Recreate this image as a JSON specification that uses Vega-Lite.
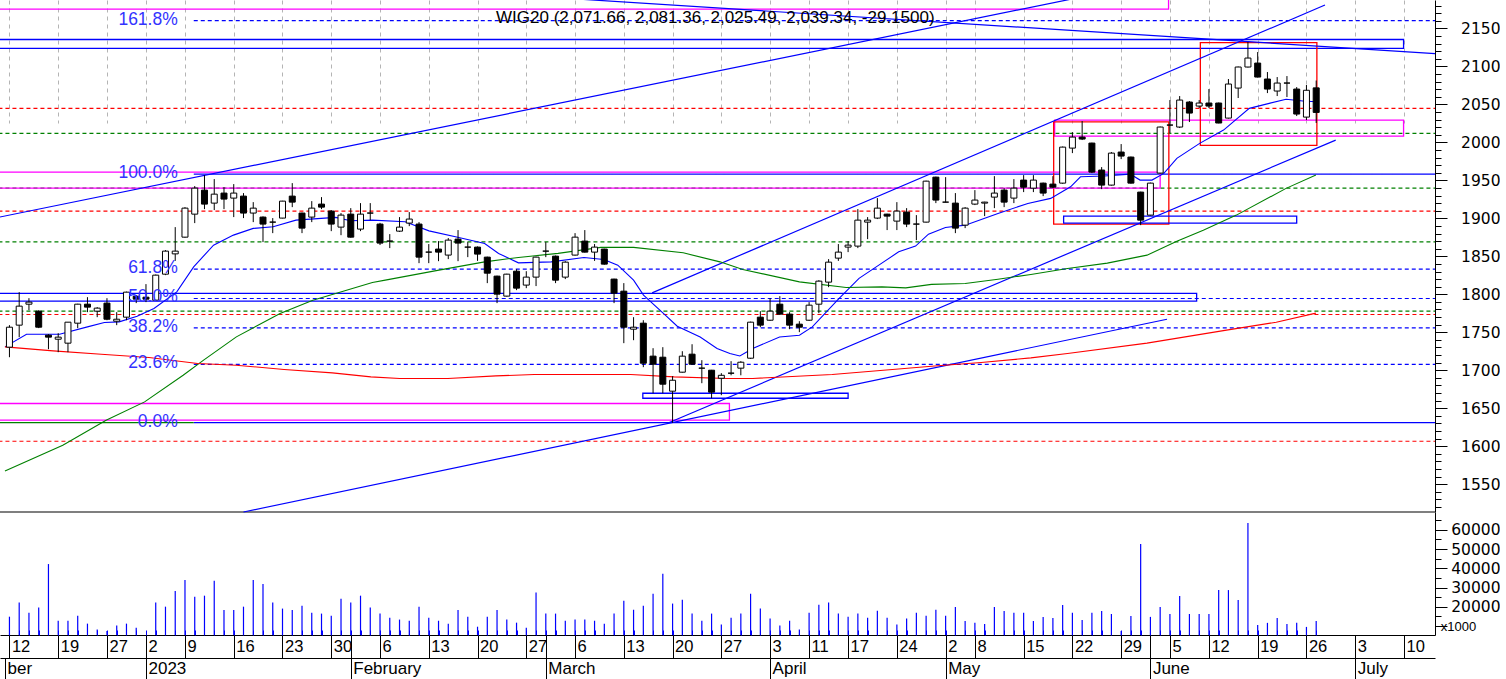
{
  "$schema": "https://vega.github.io/schema/vega-lite/v6.json",
  "padding": 0,
  "background": "white",
  "width": 1435,
  "height": 635,
  "config": {
    "view": {"stroke": null},
    "axis": {"labelFontWeight": "normal", "titleFontWeight": "normal", "labelColor": "black", "tickColor": "black", "domainColor": "black"}
  },
  "datasets": {
    "candles": [
      {"i": -1, "o": 1730.4, "h": 1759.4, "l": 1717.2, "c": 1756.7, "v": 14900},
      {"i": 0, "o": 1759.4, "h": 1802.8, "l": 1743.6, "c": 1784.4, "v": 22200},
      {"i": 1, "o": 1787.0, "h": 1794.9, "l": 1779.1, "c": 1789.7, "v": 17000},
      {"i": 2, "o": 1777.8, "h": 1779.0, "l": 1755.5, "c": 1756.7, "v": 19600},
      {"i": 3, "o": 1746.2, "h": 1747.5, "l": 1727.8, "c": 1743.6, "v": 42200},
      {"i": 4, "o": 1740.9, "h": 1748.8, "l": 1723.8, "c": 1743.6, "v": 12800},
      {"i": 5, "o": 1735.7, "h": 1763.3, "l": 1723.8, "c": 1763.3, "v": 12800},
      {"i": 6, "o": 1762.0, "h": 1787.5, "l": 1755.4, "c": 1787.0, "v": 15400},
      {"i": 7, "o": 1787.0, "h": 1796.2, "l": 1776.5, "c": 1783.1, "v": 11300},
      {"i": 8, "o": 1777.8, "h": 1783.1, "l": 1769.9, "c": 1781.8, "v": 8200},
      {"i": 9, "o": 1788.4, "h": 1794.9, "l": 1765.9, "c": 1767.2, "v": 7500},
      {"i": 10, "o": 1764.6, "h": 1776.5, "l": 1759.4, "c": 1767.2, "v": 10300},
      {"i": 11, "o": 1769.9, "h": 1803.5, "l": 1765.9, "c": 1802.8, "v": 11300},
      {"i": 12, "o": 1797.5, "h": 1798.8, "l": 1788.4, "c": 1793.6, "v": 9200},
      {"i": 13, "o": 1796.2, "h": 1813.4, "l": 1789.7, "c": 1793.6, "v": 4500},
      {"i": 14, "o": 1792.3, "h": 1826.0, "l": 1791.5, "c": 1825.2, "v": 22200},
      {"i": 15, "o": 1826.5, "h": 1858.1, "l": 1825.2, "c": 1856.8, "v": 20100},
      {"i": 16, "o": 1853.2, "h": 1888.4, "l": 1844.0, "c": 1856.8, "v": 28200},
      {"i": 17, "o": 1875.2, "h": 1914.7, "l": 1874.5, "c": 1913.4, "v": 33900},
      {"i": 18, "o": 1905.5, "h": 1942.4, "l": 1893.7, "c": 1939.7, "v": 25300},
      {"i": 19, "o": 1937.1, "h": 1956.8, "l": 1912.1, "c": 1918.7, "v": 25800},
      {"i": 20, "o": 1920.0, "h": 1951.6, "l": 1910.8, "c": 1931.8, "v": 33600},
      {"i": 21, "o": 1933.2, "h": 1941.0, "l": 1912.1, "c": 1925.3, "v": 18400},
      {"i": 22, "o": 1926.6, "h": 1945.0, "l": 1901.6, "c": 1933.2, "v": 18400},
      {"i": 23, "o": 1929.2, "h": 1933.2, "l": 1900.3, "c": 1906.9, "v": 20100},
      {"i": 24, "o": 1906.9, "h": 1921.3, "l": 1895.0, "c": 1913.4, "v": 33900},
      {"i": 25, "o": 1901.6, "h": 1902.5, "l": 1868.7, "c": 1892.4, "v": 31900},
      {"i": 26, "o": 1895.0, "h": 1900.3, "l": 1880.5, "c": 1895.0, "v": 22200},
      {"i": 27, "o": 1900.3, "h": 1923.0, "l": 1900.0, "c": 1922.6, "v": 19100},
      {"i": 28, "o": 1929.2, "h": 1946.3, "l": 1914.7, "c": 1921.3, "v": 18400},
      {"i": 29, "o": 1906.9, "h": 1907.5, "l": 1880.5, "c": 1887.1, "v": 20600},
      {"i": 30, "o": 1901.6, "h": 1922.6, "l": 1895.0, "c": 1913.4, "v": 17000},
      {"i": 31, "o": 1918.7, "h": 1927.9, "l": 1912.1, "c": 1914.7, "v": 16500},
      {"i": 32, "o": 1909.5, "h": 1910.8, "l": 1883.1, "c": 1892.4, "v": 15400},
      {"i": 33, "o": 1888.4, "h": 1906.9, "l": 1877.8, "c": 1904.2, "v": 24200},
      {"i": 34, "o": 1905.5, "h": 1913.4, "l": 1874.5, "c": 1875.2, "v": 22200},
      {"i": 35, "o": 1885.8, "h": 1920.0, "l": 1883.1, "c": 1905.5, "v": 25800},
      {"i": 36, "o": 1906.9, "h": 1920.0, "l": 1897.6, "c": 1906.9, "v": 19600},
      {"i": 37, "o": 1892.4, "h": 1894.0, "l": 1864.8, "c": 1867.4, "v": 16500},
      {"i": 38, "o": 1870.0, "h": 1879.2, "l": 1860.8, "c": 1870.0, "v": 14400},
      {"i": 39, "o": 1883.1, "h": 1901.6, "l": 1882.0, "c": 1888.4, "v": 13400},
      {"i": 40, "o": 1893.7, "h": 1908.2, "l": 1889.7, "c": 1899.0, "v": 12800},
      {"i": 41, "o": 1892.4, "h": 1895.0, "l": 1841.0, "c": 1848.9, "v": 20100},
      {"i": 42, "o": 1855.5, "h": 1866.1, "l": 1841.0, "c": 1855.5, "v": 14400},
      {"i": 43, "o": 1859.5, "h": 1870.0, "l": 1843.6, "c": 1855.5, "v": 12800},
      {"i": 44, "o": 1851.6, "h": 1874.0, "l": 1846.3, "c": 1871.3, "v": 11300},
      {"i": 45, "o": 1872.6, "h": 1884.5, "l": 1843.6, "c": 1867.4, "v": 18400},
      {"i": 46, "o": 1862.1, "h": 1868.7, "l": 1848.9, "c": 1862.1, "v": 14900},
      {"i": 47, "o": 1862.1, "h": 1863.0, "l": 1844.0, "c": 1852.9, "v": 9700},
      {"i": 48, "o": 1848.9, "h": 1849.5, "l": 1814.7, "c": 1827.8, "v": 14900},
      {"i": 49, "o": 1823.9, "h": 1824.5, "l": 1788.4, "c": 1800.2, "v": 18400},
      {"i": 50, "o": 1797.6, "h": 1827.0, "l": 1797.0, "c": 1826.5, "v": 13400},
      {"i": 51, "o": 1830.4, "h": 1833.0, "l": 1805.5, "c": 1808.1, "v": 11800},
      {"i": 52, "o": 1812.1, "h": 1830.4, "l": 1808.1, "c": 1822.6, "v": 9200},
      {"i": 53, "o": 1822.6, "h": 1849.5, "l": 1810.8, "c": 1848.9, "v": 27400},
      {"i": 54, "o": 1856.8, "h": 1868.7, "l": 1848.9, "c": 1856.8, "v": 16500},
      {"i": 55, "o": 1850.2, "h": 1851.0, "l": 1814.7, "c": 1818.6, "v": 16500},
      {"i": 56, "o": 1822.6, "h": 1843.6, "l": 1820.0, "c": 1842.3, "v": 12800},
      {"i": 57, "o": 1851.6, "h": 1880.5, "l": 1851.0, "c": 1875.2, "v": 13400},
      {"i": 58, "o": 1870.0, "h": 1884.5, "l": 1855.0, "c": 1855.5, "v": 13400},
      {"i": 59, "o": 1855.5, "h": 1866.1, "l": 1844.0, "c": 1862.1, "v": 12800},
      {"i": 60, "o": 1859.5, "h": 1860.0, "l": 1839.0, "c": 1839.7, "v": 11300},
      {"i": 61, "o": 1820.0, "h": 1820.5, "l": 1788.4, "c": 1801.5, "v": 16500},
      {"i": 62, "o": 1804.1, "h": 1814.7, "l": 1735.7, "c": 1756.7, "v": 23200},
      {"i": 63, "o": 1754.1, "h": 1769.9, "l": 1739.6, "c": 1756.7, "v": 18500},
      {"i": 64, "o": 1762.0, "h": 1765.9, "l": 1704.1, "c": 1709.3, "v": 20600},
      {"i": 65, "o": 1718.6, "h": 1729.1, "l": 1669.8, "c": 1708.0, "v": 26800},
      {"i": 66, "o": 1717.2, "h": 1730.4, "l": 1669.8, "c": 1681.7, "v": 37200},
      {"i": 67, "o": 1672.5, "h": 1692.2, "l": 1631.0, "c": 1686.9, "v": 21700},
      {"i": 68, "o": 1697.5, "h": 1725.1, "l": 1697.0, "c": 1718.6, "v": 23700},
      {"i": 69, "o": 1721.2, "h": 1734.3, "l": 1707.5, "c": 1708.0, "v": 16500},
      {"i": 70, "o": 1702.8, "h": 1713.3, "l": 1683.0, "c": 1702.8, "v": 12800},
      {"i": 71, "o": 1700.1, "h": 1700.5, "l": 1663.2, "c": 1671.2, "v": 16500},
      {"i": 72, "o": 1689.5, "h": 1696.2, "l": 1667.2, "c": 1693.4, "v": 10800},
      {"i": 73, "o": 1696.2, "h": 1712.0, "l": 1693.4, "c": 1696.2, "v": 14400},
      {"i": 74, "o": 1702.8, "h": 1712.0, "l": 1693.4, "c": 1710.6, "v": 16500},
      {"i": 75, "o": 1715.9, "h": 1764.0, "l": 1715.0, "c": 1763.3, "v": 26800},
      {"i": 76, "o": 1769.9, "h": 1777.8, "l": 1756.7, "c": 1759.4, "v": 19100},
      {"i": 77, "o": 1765.9, "h": 1794.9, "l": 1765.0, "c": 1777.8, "v": 13900},
      {"i": 78, "o": 1787.0, "h": 1797.5, "l": 1773.0, "c": 1773.9, "v": 10300},
      {"i": 79, "o": 1773.9, "h": 1776.5, "l": 1754.1, "c": 1759.4, "v": 12800},
      {"i": 80, "o": 1760.7, "h": 1764.6, "l": 1750.2, "c": 1756.7, "v": 8200},
      {"i": 81, "o": 1765.9, "h": 1789.7, "l": 1765.0, "c": 1785.7, "v": 17000},
      {"i": 82, "o": 1787.0, "h": 1818.6, "l": 1775.2, "c": 1817.3, "v": 21100},
      {"i": 83, "o": 1816.0, "h": 1846.3, "l": 1809.4, "c": 1842.3, "v": 22200},
      {"i": 84, "o": 1847.6, "h": 1866.1, "l": 1844.0, "c": 1855.5, "v": 16500},
      {"i": 85, "o": 1862.1, "h": 1870.0, "l": 1855.5, "c": 1864.7, "v": 14900},
      {"i": 86, "o": 1863.4, "h": 1912.1, "l": 1860.8, "c": 1897.6, "v": 16500},
      {"i": 87, "o": 1895.0, "h": 1901.6, "l": 1872.6, "c": 1897.6, "v": 14400},
      {"i": 88, "o": 1900.3, "h": 1926.6, "l": 1899.0, "c": 1913.4, "v": 18000},
      {"i": 89, "o": 1905.5, "h": 1906.0, "l": 1884.5, "c": 1902.9, "v": 14400},
      {"i": 90, "o": 1896.3, "h": 1921.3, "l": 1884.5, "c": 1909.5, "v": 10800},
      {"i": 91, "o": 1908.2, "h": 1913.4, "l": 1888.4, "c": 1892.4, "v": 13900},
      {"i": 92, "o": 1892.4, "h": 1904.2, "l": 1871.3, "c": 1892.4, "v": 17000},
      {"i": 93, "o": 1895.0, "h": 1949.5, "l": 1894.5, "c": 1948.9, "v": 15400},
      {"i": 94, "o": 1954.2, "h": 1954.8, "l": 1920.0, "c": 1924.0, "v": 18500},
      {"i": 95, "o": 1921.3, "h": 1954.2, "l": 1921.0, "c": 1921.3, "v": 15400},
      {"i": 96, "o": 1920.0, "h": 1933.2, "l": 1880.5, "c": 1887.1, "v": 19900},
      {"i": 97, "o": 1891.0, "h": 1914.7, "l": 1887.1, "c": 1913.4, "v": 12700},
      {"i": 98, "o": 1918.7, "h": 1937.1, "l": 1917.4, "c": 1924.0, "v": 11800},
      {"i": 99, "o": 1920.0, "h": 1921.8, "l": 1902.9, "c": 1921.3, "v": 11100},
      {"i": 100, "o": 1927.9, "h": 1955.5, "l": 1913.4, "c": 1933.2, "v": 19900},
      {"i": 101, "o": 1937.1, "h": 1939.7, "l": 1914.7, "c": 1921.3, "v": 17900},
      {"i": 102, "o": 1926.6, "h": 1951.6, "l": 1920.0, "c": 1939.7, "v": 17000},
      {"i": 103, "o": 1950.3, "h": 1956.8, "l": 1934.5, "c": 1941.0, "v": 17000},
      {"i": 104, "o": 1939.7, "h": 1956.8, "l": 1934.5, "c": 1950.3, "v": 12700},
      {"i": 105, "o": 1946.3, "h": 1947.0, "l": 1929.2, "c": 1933.2, "v": 14800},
      {"i": 106, "o": 1945.0, "h": 1955.5, "l": 1939.7, "c": 1941.0, "v": 14200},
      {"i": 107, "o": 1946.3, "h": 1994.5, "l": 1945.5, "c": 1993.7, "v": 21000},
      {"i": 108, "o": 1992.4, "h": 2013.4, "l": 1985.8, "c": 2006.9, "v": 17000},
      {"i": 109, "o": 2006.9, "h": 2028.0, "l": 2003.0, "c": 2004.3, "v": 13200},
      {"i": 110, "o": 1999.0, "h": 1999.5, "l": 1959.5, "c": 1960.8, "v": 17000},
      {"i": 111, "o": 1963.5, "h": 1967.4, "l": 1938.4, "c": 1943.7, "v": 17900},
      {"i": 112, "o": 1943.7, "h": 1987.2, "l": 1943.0, "c": 1985.8, "v": 16300},
      {"i": 113, "o": 1987.2, "h": 1997.7, "l": 1977.9, "c": 1981.9, "v": 7500},
      {"i": 114, "o": 1980.6, "h": 1981.2, "l": 1945.7, "c": 1946.3, "v": 15300},
      {"i": 115, "o": 1934.5, "h": 1935.0, "l": 1891.0, "c": 1897.6, "v": 52600},
      {"i": 116, "o": 1904.2, "h": 1947.0, "l": 1903.6, "c": 1946.3, "v": 14800},
      {"i": 117, "o": 1959.5, "h": 2020.7, "l": 1959.0, "c": 2020.1, "v": 19900},
      {"i": 118, "o": 2022.7, "h": 2055.6, "l": 2012.2, "c": 2022.7, "v": 16300},
      {"i": 119, "o": 2020.1, "h": 2060.9, "l": 2018.8, "c": 2055.6, "v": 25600},
      {"i": 120, "o": 2053.0, "h": 2054.3, "l": 2026.7, "c": 2038.5, "v": 16300},
      {"i": 121, "o": 2047.7, "h": 2055.6, "l": 2045.1, "c": 2051.7, "v": 16300},
      {"i": 122, "o": 2051.7, "h": 2070.1, "l": 2045.1, "c": 2047.7, "v": 16300},
      {"i": 123, "o": 2051.7, "h": 2052.3, "l": 2025.0, "c": 2025.4, "v": 28700},
      {"i": 124, "o": 2031.9, "h": 2083.3, "l": 2031.3, "c": 2076.7, "v": 28700},
      {"i": 125, "o": 2071.4, "h": 2099.7, "l": 2058.3, "c": 2099.1, "v": 23600},
      {"i": 126, "o": 2099.1, "h": 2132.0, "l": 2098.5, "c": 2110.9, "v": 63500},
      {"i": 127, "o": 2104.3, "h": 2118.8, "l": 2085.3, "c": 2085.9, "v": 10600},
      {"i": 128, "o": 2083.3, "h": 2092.5, "l": 2064.8, "c": 2070.1, "v": 11700},
      {"i": 129, "o": 2067.5, "h": 2085.9, "l": 2060.9, "c": 2078.0, "v": 14200},
      {"i": 130, "o": 2078.0, "h": 2087.2, "l": 2059.6, "c": 2078.0, "v": 11100},
      {"i": 131, "o": 2070.1, "h": 2072.7, "l": 2034.6, "c": 2037.2, "v": 11700},
      {"i": 132, "o": 2033.2, "h": 2075.4, "l": 2029.3, "c": 2068.5, "v": 9600},
      {"i": 133, "o": 2071.66, "h": 2081.36, "l": 2025.49, "c": 2039.34, "v": 12700}
    ],
    "ma": [
      {"s": "b", "i": -1.46, "p": 1730.8}, {"s": "b", "i": 0.75, "p": 1747.5}, {"s": "b", "i": 4.14, "p": 1747.5},
      {"s": "b", "i": 7.0, "p": 1757.1}, {"s": "b", "i": 8.73, "p": 1762.9}, {"s": "b", "i": 10.25, "p": 1763.7},
      {"s": "b", "i": 12.09, "p": 1771.2}, {"s": "b", "i": 13.82, "p": 1781.4}, {"s": "b", "i": 16.16, "p": 1803.2},
      {"s": "b", "i": 17.89, "p": 1836.1}, {"s": "b", "i": 19.93, "p": 1864.7}, {"s": "b", "i": 21.97, "p": 1877.9},
      {"s": "b", "i": 24.0, "p": 1886.7}, {"s": "b", "i": 26.04, "p": 1888.8}, {"s": "b", "i": 28.38, "p": 1897.6},
      {"s": "b", "i": 32.45, "p": 1901.2}, {"s": "b", "i": 33.98, "p": 1896.7}, {"s": "b", "i": 36.22, "p": 1897.6},
      {"s": "b", "i": 39.58, "p": 1895.4}, {"s": "b", "i": 42.02, "p": 1883.5}, {"s": "b", "i": 45.08, "p": 1874.8},
      {"s": "b", "i": 47.73, "p": 1866.9}, {"s": "b", "i": 49.16, "p": 1853.8}, {"s": "b", "i": 51.19, "p": 1841.4},
      {"s": "b", "i": 54.55, "p": 1842.7}, {"s": "b", "i": 57.91, "p": 1848.5}, {"s": "b", "i": 59.95, "p": 1845.9},
      {"s": "b", "i": 61.38, "p": 1838.4}, {"s": "b", "i": 63.0, "p": 1818.6}, {"s": "b", "i": 64.02, "p": 1798.9},
      {"s": "b", "i": 66.06, "p": 1774.8}, {"s": "b", "i": 67.48, "p": 1758.0}, {"s": "b", "i": 69.83, "p": 1743.9},
      {"s": "b", "i": 71.56, "p": 1728.7}, {"s": "b", "i": 72.88, "p": 1722.1}, {"s": "b", "i": 73.9, "p": 1718.9},
      {"s": "b", "i": 75.22, "p": 1728.7}, {"s": "b", "i": 77.97, "p": 1743.9}, {"s": "b", "i": 80.01, "p": 1746.2},
      {"s": "b", "i": 81.33, "p": 1757.1}, {"s": "b", "i": 84.08, "p": 1794.5}, {"s": "b", "i": 86.12, "p": 1820.9},
      {"s": "b", "i": 88.15, "p": 1838.4}, {"s": "b", "i": 90.19, "p": 1855.9}, {"s": "b", "i": 91.92, "p": 1863.4},
      {"s": "b", "i": 93.24, "p": 1879.2}, {"s": "b", "i": 94.98, "p": 1888.0}, {"s": "b", "i": 97.01, "p": 1891.0},
      {"s": "b", "i": 100.37, "p": 1906.4}, {"s": "b", "i": 103.43, "p": 1919.6}, {"s": "b", "i": 105.77, "p": 1926.2},
      {"s": "b", "i": 107.81, "p": 1941.5}, {"s": "b", "i": 108.83, "p": 1954.6}, {"s": "b", "i": 111.27, "p": 1955.6},
      {"s": "b", "i": 113.92, "p": 1958.2}, {"s": "b", "i": 114.94, "p": 1950.3}, {"s": "b", "i": 116.16, "p": 1950.3},
      {"s": "b", "i": 117.38, "p": 1959.1}, {"s": "b", "i": 118.71, "p": 1978.9}, {"s": "b", "i": 121.05, "p": 1998.6},
      {"s": "b", "i": 123.5, "p": 2016.1}, {"s": "b", "i": 126.14, "p": 2044.7}, {"s": "b", "i": 128.18, "p": 2051.3},
      {"s": "b", "i": 129.91, "p": 2056.6}, {"s": "b", "i": 131.64, "p": 2054.3}, {"s": "b", "i": 132.97, "p": 2053.4},
      {"s": "g", "i": -1.46, "p": 1567.5}, {"s": "g", "i": 4.47, "p": 1601.4}, {"s": "g", "i": 8.91, "p": 1634.3},
      {"s": "g", "i": 12.86, "p": 1658.4}, {"s": "g", "i": 16.81, "p": 1693.5}, {"s": "g", "i": 18.91, "p": 1713.3},
      {"s": "g", "i": 22.27, "p": 1744.0}, {"s": "g", "i": 26.75, "p": 1774.8}, {"s": "g", "i": 30.11, "p": 1792.3},
      {"s": "g", "i": 32.45, "p": 1801.1}, {"s": "g", "i": 36.22, "p": 1815.6}, {"s": "g", "i": 37.54, "p": 1818.6},
      {"s": "g", "i": 43.04, "p": 1831.8}, {"s": "g", "i": 47.73, "p": 1842.7}, {"s": "g", "i": 51.19, "p": 1848.5},
      {"s": "g", "i": 55.26, "p": 1853.8}, {"s": "g", "i": 59.64, "p": 1861.7}, {"s": "g", "i": 63.0, "p": 1861.7},
      {"s": "g", "i": 68.09, "p": 1854.6}, {"s": "g", "i": 71.86, "p": 1842.7}, {"s": "g", "i": 74.2, "p": 1832.7},
      {"s": "g", "i": 80.01, "p": 1816.4}, {"s": "g", "i": 84.8, "p": 1809.0}, {"s": "g", "i": 88.46, "p": 1809.8},
      {"s": "g", "i": 90.91, "p": 1808.5}, {"s": "g", "i": 93.55, "p": 1813.0}, {"s": "g", "i": 97.01, "p": 1814.3},
      {"s": "g", "i": 100.37, "p": 1819.9}, {"s": "g", "i": 103.74, "p": 1826.1}, {"s": "g", "i": 107.5, "p": 1834.0},
      {"s": "g", "i": 111.58, "p": 1841.0}, {"s": "g", "i": 115.65, "p": 1851.5}, {"s": "g", "i": 118.71, "p": 1869.9},
      {"s": "g", "i": 121.42, "p": 1884.4}, {"s": "g", "i": 124.82, "p": 1904.2}, {"s": "g", "i": 129.91, "p": 1939.4},
      {"s": "g", "i": 132.97, "p": 1956.9},
      {"s": "r", "i": -1.46, "p": 1730.8}, {"s": "r", "i": 3.48, "p": 1725.5}, {"s": "r", "i": 8.42, "p": 1721.2},
      {"s": "r", "i": 13.31, "p": 1716.8}, {"s": "r", "i": 18.3, "p": 1708.9}, {"s": "r", "i": 22.24, "p": 1706.7},
      {"s": "r", "i": 27.16, "p": 1701.0}, {"s": "r", "i": 32.11, "p": 1696.6}, {"s": "r", "i": 36.06, "p": 1691.3},
      {"s": "r", "i": 39.02, "p": 1689.2}, {"s": "r", "i": 43.96, "p": 1689.2}, {"s": "r", "i": 48.89, "p": 1692.6},
      {"s": "r", "i": 52.82, "p": 1694.5}, {"s": "r", "i": 62.7, "p": 1694.5}, {"s": "r", "i": 67.16, "p": 1691.3},
      {"s": "r", "i": 72.58, "p": 1689.2}, {"s": "r", "i": 75.22, "p": 1689.2}, {"s": "r", "i": 83.37, "p": 1694.5},
      {"s": "r", "i": 93.55, "p": 1705.4}, {"s": "r", "i": 98.64, "p": 1710.3}, {"s": "r", "i": 103.74, "p": 1716.3},
      {"s": "r", "i": 107.5, "p": 1722.1}, {"s": "r", "i": 115.65, "p": 1735.7}, {"s": "r", "i": 123.8, "p": 1752.8},
      {"s": "r", "i": 128.9, "p": 1763.2}, {"s": "r", "i": 132.97, "p": 1775.2}
    ],
    "levels": [
      {"k": "fib", "p": 2160.1, "i": 17.9, "i2": 150},
      {"k": "fib", "p": 1833.1, "i": 17.9, "i2": 150},
      {"k": "fib", "p": 1794.5, "i": 17.9, "i2": 150},
      {"k": "fib", "p": 1755.9, "i": 17.9, "i2": 150},
      {"k": "fib", "p": 1707.7, "i": 17.9, "i2": 150},
      {"k": "fibs", "p": 1958.2, "i": 17.9, "i2": 150},
      {"k": "fibs", "p": 1631.0, "i": 17.9, "i2": 150},
      {"k": "gs", "p": 1631.0, "i": -5, "i2": 17.9},
      {"k": "red", "p": 2044.7, "i": -5, "i2": 150},
      {"k": "red", "p": 1909.4, "i": -5, "i2": 150},
      {"k": "red", "p": 1773.4, "i": -5, "i2": 150},
      {"k": "red", "p": 1606.6, "i": -5, "i2": 150},
      {"k": "green", "p": 2011.7, "i": -5, "i2": 150},
      {"k": "green", "p": 1939.7, "i": -5, "i2": 150},
      {"k": "green", "p": 1869.0, "i": -5, "i2": 150},
      {"k": "green", "p": 1777.8, "i": -5, "i2": 150},
      {"k": "base", "p": 1513.5, "i": -5, "i2": 150}
    ],
    "boxes": [
      {"k": "m", "i": -5, "i2": 117.86, "p": 2175.4, "p2": 2196},
      {"k": "b", "i": -5, "i2": 141.96, "p": 2123.7, "p2": 2135.3},
      {"k": "m", "i": 106.18, "i2": 141.96, "p": 2008.2, "p2": 2029.3},
      {"k": "r", "i": 106.08, "i2": 117.89, "p": 1892.3, "p2": 2027.0},
      {"k": "r", "i": 121.12, "i2": 133.07, "p": 1996.0, "p2": 2131.3},
      {"k": "m", "i": -5, "i2": 117.0, "p": 1939.7, "p2": 1960.8},
      {"k": "b", "i": -5, "i2": 120.74, "p": 1791.0, "p2": 1801.1},
      {"k": "m", "i": -5, "i2": 72.83, "p": 1634.3, "p2": 1656.3},
      {"k": "b", "i": 63.95, "i2": 85.0, "p": 1663.2, "p2": 1669.8},
      {"k": "b", "i": 107.1, "i2": 131.0, "p": 1893.6, "p2": 1902.9}
    ],
    "trend": [
      {"l": "L1", "i": -5, "p": 1893.8}, {"l": "L1", "i": 110, "p": 2194.0},
      {"l": "L2", "i": 23.0, "p": 1513.5}, {"l": "L2", "i": 117.7, "p": 1767.2},
      {"l": "L3", "i": 66.6, "p": 1631.0}, {"l": "L3", "i": 135.0, "p": 2002.9},
      {"l": "L4", "i": 64.9, "p": 1801.9}, {"l": "L4", "i": 133.9, "p": 2180.7},
      {"l": "L5", "i": 50, "p": 2194.5}, {"l": "L5", "i": 150, "p": 2112.9}
    ],
    "fiblabels": [
      {"t": "161.8%", "p": 2160.1}, {"t": "100.0%", "p": 1958.2}, {"t": "61.8%", "p": 1833.1},
      {"t": "50.0%", "p": 1794.5}, {"t": "38.2%", "p": 1755.9}, {"t": "23.6%", "p": 1707.7},
      {"t": "0.0%", "p": 1631.0}
    ]
  },
  "layer": [
    {
      "data": {"name": "levels"},
      "mark": {"type": "rule", "strokeWidth": 1.2, "clip": true},
      "encoding": {
        "x": {"field": "i", "type": "quantitative", "scale": {"domain": [-1.456, 144.67], "nice": false, "zero": false}, "axis": null},
        "x2": {"field": "i2"},
        "y": {"field": "p", "type": "quantitative", "scale": {"domain": [1513.5, 2187.3], "range": [512, 0], "nice": false, "zero": false},
          "axis": {"orient": "right", "values": [1550, 1600, 1650, 1700, 1750, 1800, 1850, 1900, 1950, 2000, 2050, 2100, 2150], "format": "d",
            "tickSize": 12, "labelPadding": 53, "labelAlign": "right", "labelBaseline": "middle", "labelFont": "DejaVu Sans", "labelFontSize": 15.5,
            "labelColor": "black", "grid": false, "title": null, "labelFlush": false, "labelOverlap": false}},
        "color": {"field": "k", "type": "nominal", "legend": null,
          "scale": {"domain": ["fib", "fibs", "gs", "red", "green", "base"], "range": ["#0000ff", "#0000ff", "#008000", "#ff0000", "#008000", "#000000"]}},
        "strokeDash": {"field": "k", "type": "nominal", "legend": null,
          "scale": {"domain": ["fib", "fibs", "gs", "red", "green", "base"], "range": [[4, 3], [1, 0], [1, 0], [4, 3], [4, 3], [1, 0]]}}
      }
    },
    {
      "data": {"name": "boxes"},
      "mark": {"type": "rect", "filled": false, "strokeWidth": 1.3, "clip": true},
      "encoding": {
        "x": {"field": "i", "type": "quantitative", "scale": {"domain": [-1.456, 144.67], "nice": false, "zero": false}, "axis": null},
        "x2": {"field": "i2"},
        "y": {"field": "p", "type": "quantitative", "scale": {"domain": [1513.5, 2187.3], "range": [512, 0], "nice": false, "zero": false}, "axis": null},
        "y2": {"field": "p2"},
        "color": {"field": "k", "type": "nominal", "legend": null,
          "scale": {"domain": ["m", "r", "b"], "range": ["#ff00ff", "#ff0000", "#0000ff"]}}
      }
    },
    {
      "data": {"name": "trend"},
      "mark": {"type": "line", "color": "#0000ff", "strokeWidth": 1.2, "clip": true},
      "encoding": {
        "x": {"field": "i", "type": "quantitative", "scale": {"domain": [-1.456, 144.67], "nice": false, "zero": false}, "axis": null},
        "y": {"field": "p", "type": "quantitative", "scale": {"domain": [1513.5, 2187.3], "range": [512, 0], "nice": false, "zero": false}, "axis": null},
        "detail": {"field": "l", "type": "nominal"}
      }
    },
    {
      "data": {"name": "ma"},
      "mark": {"type": "line", "clip": true},
      "encoding": {
        "x": {"field": "i", "type": "quantitative", "scale": {"domain": [-1.456, 144.67], "nice": false, "zero": false}, "axis": null},
        "y": {"field": "p", "type": "quantitative", "scale": {"domain": [1513.5, 2187.3], "range": [512, 0], "nice": false, "zero": false}, "axis": null},
        "color": {"field": "s", "type": "nominal", "legend": null,
          "scale": {"domain": ["b", "g", "r"], "range": ["#0000ff", "#008000", "#ff0000"]}},
        "strokeWidth": {"field": "s", "type": "nominal", "legend": null,
          "scale": {"domain": ["b", "g", "r"], "range": [1.1, 1.1, 1.8]}}
      }
    },
    {
      "data": {"name": "candles"},
      "mark": {"type": "rule", "color": "black", "strokeWidth": 1},
      "encoding": {
        "x": {"field": "i", "type": "quantitative", "scale": {"domain": [-1.456, 144.67], "nice": false, "zero": false}, "axis": null},
        "y": {"field": "l", "type": "quantitative", "scale": {"domain": [1513.5, 2187.3], "range": [512, 0], "nice": false, "zero": false}, "axis": null},
        "y2": {"field": "h"}
      }
    },
    {
      "data": {"name": "candles"},
      "mark": {"type": "bar", "width": 6, "stroke": "black", "strokeWidth": 1},
      "encoding": {
        "x": {"field": "i", "type": "quantitative", "scale": {"domain": [-1.456, 144.67], "nice": false, "zero": false}, "axis": null},
        "y": {"field": "o", "type": "quantitative", "scale": {"domain": [1513.5, 2187.3], "range": [512, 0], "nice": false, "zero": false}, "axis": null},
        "y2": {"field": "c"},
        "fill": {"condition": {"test": "datum.c >= datum.o", "value": "white"}, "value": "black"}
      }
    },
    {
      "data": {"name": "fiblabels"},
      "mark": {"type": "text", "align": "right", "baseline": "middle", "dy": -1, "font": "Liberation Sans", "fontSize": 17.5, "color": "#3333ff"},
      "encoding": {
        "x": {"datum": 16.26, "type": "quantitative", "scale": {"domain": [-1.456, 144.67], "nice": false, "zero": false}, "axis": null},
        "y": {"field": "p", "type": "quantitative", "scale": {"domain": [1513.5, 2187.3], "range": [512, 0], "nice": false, "zero": false}, "axis": null},
        "text": {"field": "t"}
      }
    },
    {
      "data": {"values": [{"t": "WIG20 (2,071.66, 2,081.36, 2,025.49, 2,039.34, -29.1500)"}]},
      "mark": {"type": "text", "align": "left", "baseline": "alphabetic", "font": "Liberation Sans", "fontSize": 17, "color": "black"},
      "encoding": {
        "x": {"datum": 48.9, "type": "quantitative", "scale": {"domain": [-1.456, 144.67], "nice": false, "zero": false}, "axis": null},
        "y": {"datum": 2157.4, "type": "quantitative", "scale": {"domain": [1513.5, 2187.3], "range": [512, 0], "nice": false, "zero": false}, "axis": null},
        "text": {"field": "t"}
      }
    },
    {
      "data": {"values": [{"p": 1600}]},
      "mark": {"type": "rule", "opacity": 0},
      "encoding": {
        "y": {"field": "p", "type": "quantitative", "scale": {"domain": [1513.5, 2187.3], "range": [512, 0], "nice": false, "zero": false},
          "axis": {"orient": "right", "values": [1520, 1530, 1540, 1550, 1560, 1570, 1580, 1590, 1600, 1610, 1620, 1630, 1640, 1650, 1660, 1670, 1680, 1690, 1700, 1710, 1720, 1730, 1740, 1750, 1760, 1770, 1780, 1790, 1800, 1810, 1820, 1830, 1840, 1850, 1860, 1870, 1880, 1890, 1900, 1910, 1920, 1930, 1940, 1950, 1960, 1970, 1980, 1990, 2000, 2010, 2020, 2030, 2040, 2050, 2060, 2070, 2080, 2090, 2100, 2110, 2120, 2130, 2140, 2150, 2160, 2170, 2180],
            "tickSize": 6, "labels": false, "domain": false, "grid": false, "title": null}}
      }
    },
    {
      "data": {"name": "candles"},
      "mark": {"type": "rule", "color": "#0000ff", "strokeWidth": 1.2, "clip": true},
      "encoding": {
        "x": {"field": "i", "type": "quantitative", "scale": {"domain": [-1.456, 144.67], "nice": false, "zero": false},
          "axis": {"orient": "bottom", "values": [-1, 4, 9, 13, 17, 22, 27, 32, 34, 37, 42, 47, 52, 54, 57, 62, 67, 72, 77, 81, 85, 90, 95, 98, 103, 108, 113, 116, 118, 122, 127, 132, 137, 142],
            "labelExpr": "indexof([-1,4,9,13,17,22,27,32,37,42,47,52,57,62,67,72,77,81,85,90,95,98,103,108,113,118,122,127,132,137,142], datum.value) >= 0 ? ['12','19','27','2','9','16','23','30','6','13','20','27','6','13','20','27','3','11','17','24','2','8','15','22','29','5','12','19','26','3','10'][indexof([-1,4,9,13,17,22,27,32,37,42,47,52,57,62,67,72,77,81,85,90,95,98,103,108,113,118,122,127,132,137,142], datum.value)] : ''",
            "tickSize": 23, "labelPadding": -12, "labelBaseline": "middle", "labelAlign": "left", "labelOffset": 2,
            "labelFont": "Liberation Sans", "labelFontSize": 16.5, "labelColor": "black", "labelFlush": false, "labelOverlap": false, "labelBound": false,
            "grid": true, "gridColor": "#b4b4b4", "gridDash": [4, 4],
            "gridOpacity": {"condition": {"test": "indexof([34,54,116], datum.value) >= 0", "value": 0}, "value": 1},
            "domainColor": "black", "title": null}},
        "y": {"field": "v", "type": "quantitative", "scale": {"domain": [5400, 69200], "range": [635, 512], "nice": false, "zero": false},
          "axis": {"orient": "right", "values": [10000, 20000, 30000, 40000, 50000, 60000],
            "labelExpr": "datum.value == 10000 ? '' : format(datum.value, 'd')",
            "tickSize": 12, "labelPadding": 53, "labelAlign": "right", "labelBaseline": "middle", "labelFont": "DejaVu Sans", "labelFontSize": 15.5,
            "labelColor": "black", "grid": false, "labelFlush": false, "labelOverlap": false,
            "title": "x1000", "titleAngle": 0, "titleX": 23, "titleY": 626, "titleAlign": "center", "titleBaseline": "middle",
            "titleFont": "Liberation Sans", "titleFontSize": 13, "titleColor": "black"}},
        "y2": {"datum": 0}
      }
    },
    {
      "data": {"name": "candles"},
      "mark": {"type": "rule", "opacity": 0},
      "encoding": {
        "x": {"field": "i", "type": "quantitative", "scale": {"domain": [-1.456, 144.67], "nice": false, "zero": false},
          "axis": {"orient": "bottom", "offset": 23, "values": [-1.45, 13, 34, 54, 77, 95, 116, 137],
            "labelExpr": "['ber','2023','February','March','April','May','June','July'][indexof([-1.45,13,34,54,77,95,116,137], datum.value)]",
            "tickSize": 21, "labelPadding": -11, "labelBaseline": "middle", "labelAlign": "left", "labelOffset": 2,
            "labelFont": "Liberation Sans", "labelFontSize": 17, "labelColor": "black", "labelFlush": false, "labelOverlap": false, "labelBound": false,
            "grid": false, "domainColor": "black", "title": null}}
      }
    },
    {
      "data": {"name": "candles"},
      "mark": {"type": "rule", "opacity": 0},
      "encoding": {
        "x": {"field": "i", "type": "quantitative", "scale": {"domain": [-1.456, 144.67], "nice": false, "zero": false},
          "axis": {"orient": "bottom", "values": [-1, 0, 1, 2, 3, 4, 5, 6, 7, 8, 9, 10, 11, 12, 13, 14, 15, 16, 17, 18, 19, 20, 21, 22, 23, 24, 25, 26, 27, 28, 29, 30, 31, 32, 33, 34, 35, 36, 37, 38, 39, 40, 41, 42, 43, 44, 45, 46, 47, 48, 49, 50, 51, 52, 53, 54, 55, 56, 57, 58, 59, 60, 61, 62, 63, 64, 65, 66, 67, 68, 69, 70, 71, 72, 73, 74, 75, 76, 77, 78, 79, 80, 81, 82, 83, 84, 85, 86, 87, 88, 89, 90, 91, 92, 93, 94, 95, 96, 97, 98, 99, 100, 101, 102, 103, 104, 105, 106, 107, 108, 109, 110, 111, 112, 113, 114, 115, 116, 117, 118, 119, 120, 121, 122, 123, 124, 125, 126, 127, 128, 129, 130, 131, 132, 133],
            "tickSize": -5, "tickColor": "#0000ff", "labels": false, "domain": false, "grid": false, "title": null}}
      }
    },
    {
      "data": {"values": [{"v": 20000}]},
      "mark": {"type": "rule", "opacity": 0},
      "encoding": {
        "y": {"field": "v", "type": "quantitative", "scale": {"domain": [5400, 69200], "range": [635, 512], "nice": false, "zero": false},
          "axis": {"orient": "right", "values": [15000, 25000, 35000, 45000, 55000, 65000], "tickSize": 6, "labels": false, "domain": false, "grid": false, "title": null}}
      }
    }
  ],
  "resolve": {
    "scale": {"y": "independent", "color": "independent", "strokeDash": "independent", "strokeWidth": "independent"},
    "axis": {"x": "independent", "y": "independent"}
  }
}
